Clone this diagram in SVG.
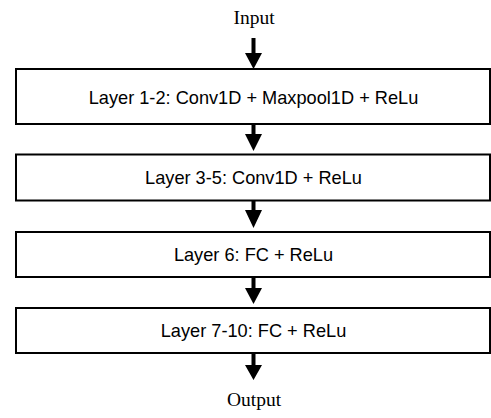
<svg xmlns="http://www.w3.org/2000/svg" width="491" height="418" viewBox="0 0 491 418">
<style>
.box{fill:#fff;stroke:#000;stroke-width:2}
.lbl{font-family:"Liberation Sans",Arial,sans-serif;font-size:18.2px;fill:#000;text-anchor:middle}
.io{font-family:"Liberation Serif","Times New Roman",serif;font-size:19.5px;fill:#000;text-anchor:middle}
.arr{fill:#000}
</style>
<rect width="491" height="418" fill="#fff"/>
<g id="input"><text class="io" x="254" y="24">Input</text></g>
<g id="layer1-2"><rect class="box" x="16" y="69" width="474" height="55"/><text class="lbl" x="253.5" y="103.5">Layer 1-2: Conv1D + Maxpool1D + ReLu</text></g>
<g id="layer3-5"><rect class="box" x="16" y="154.5" width="474" height="46"/><text class="lbl" x="253.5" y="184">Layer 3-5: Conv1D + ReLu</text></g>
<g id="layer6"><rect class="box" x="16" y="232" width="474" height="45"/><text class="lbl" x="253.5" y="261">Layer 6: FC + ReLu</text></g>
<g id="layer7-10"><rect class="box" x="16" y="308" width="474" height="45"/><text class="lbl" x="253.5" y="337">Layer 7-10: FC + ReLu</text></g>
<g id="output"><text class="io" x="254" y="406">Output</text></g>
<g id="connectors">
<path class="arr" d="M251.5 38h4v15h6.5l-8.5 16l-8.5-16h6.5z"/>
<path class="arr" d="M251.5 124h4v10h6.5l-8.5 17l-8.5-17h6.5z"/>
<path class="arr" d="M251.5 201h4v9h6.5l-8.5 18l-8.5-18h6.5z"/>
<path class="arr" d="M251.5 277h4v11h6.5l-8.5 16l-8.5-16h6.5z"/>
<path class="arr" d="M251.5 353h4v12h6.5l-8.5 15l-8.5-15h6.5z"/>
</g>
</svg>
